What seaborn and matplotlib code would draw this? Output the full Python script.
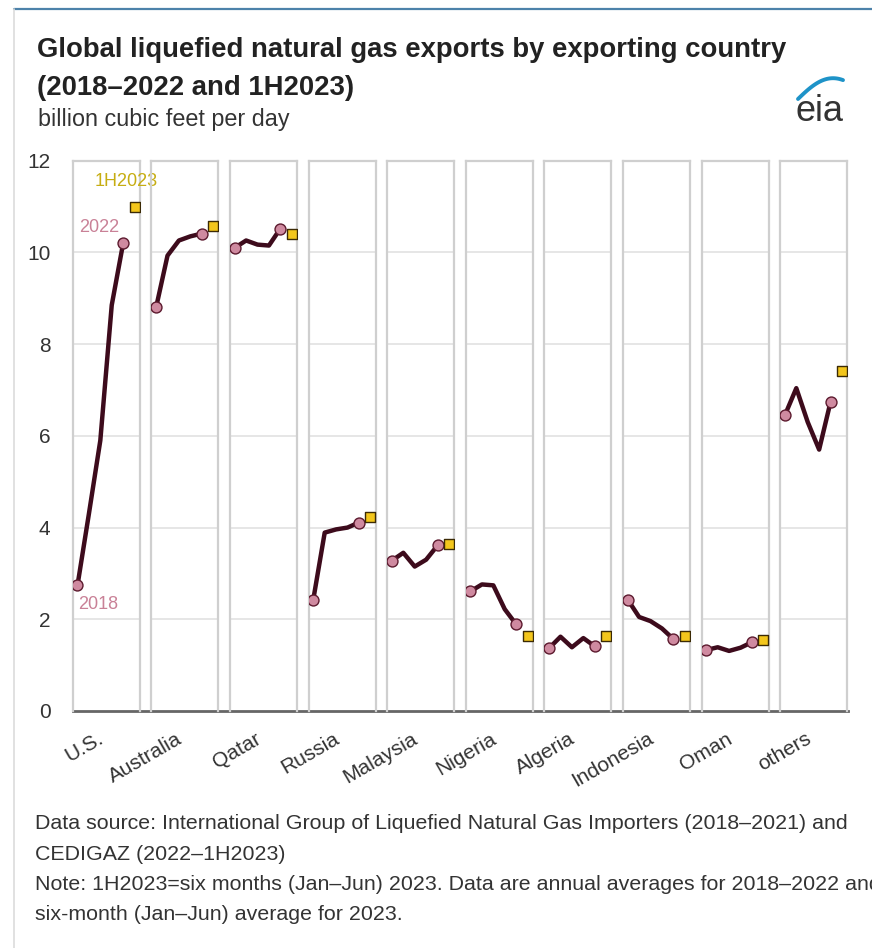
import numpy as np
import pandas as pd
import seaborn as sns
import matplotlib.pyplot as plt
from matplotlib.lines import Line2D

# ---------------- data ----------------
countries = ["U.S.", "Australia", "Qatar", "Russia", "Malaysia",
             "Nigeria", "Algeria", "Indonesia", "Oman", "others"]
years = ["2018", "2019", "2020", "2021", "2022"]
us        = [2.74, 4.30, 5.90, 8.85, 10.20]
australia = [8.80, 9.93, 10.26, 10.35, 10.41]
qatar     = [10.10, 10.26, 10.17, 10.15, 10.52]
russia    = [2.43, 3.89, 3.96, 4.00, 4.11]
malaysia  = [3.28, 3.45, 3.15, 3.30, 3.61]
nigeria   = [2.61, 2.76, 2.74, 2.22, 1.89]
algeria   = [1.37, 1.62, 1.39, 1.59, 1.41]
indonesia = [2.43, 2.05, 1.96, 1.80, 1.57]
oman      = [1.33, 1.39, 1.31, 1.38, 1.50]
others    = [6.45, 7.04, 6.30, 5.70, 6.74]
h1_2023   = [11.00, 10.57, 10.41, 4.22, 3.65, 1.63, 1.63, 1.63, 1.54, 7.41]
yticks = [0, 2, 4, 6, 8, 10, 12]

annual = [us, australia, qatar, russia, malaysia, nigeria, algeria, indonesia, oman, others]

# ---------------- style ----------------
sns.set_theme(style="white")
plt.rcParams['font.family'] = ['Liberation Sans', 'DejaVu Sans']

W, H = 872, 948
fig = plt.figure(figsize=(W / 100, H / 100), dpi=100)
fig.patch.set_facecolor("white")

def fx(px):
    return px / W

def fy(py):
    return 1 - py / H

LINE_C = "#3d0b1c"
CIRC_FC = "#cf8aa0"
CIRC_EC = "#5c1a2e"
SQ_FC = "#f3c61c"
SQ_EC = "#3b2a05"
PANEL_EC = "#cfcfcf"
GRID_C = "#e4e4e4"

plot_left, plot_right = 72.7, 848.3
plot_top, plot_bottom = 160.7, 711.0
panel_w = 67.0
step = 78.6

# background axis: y ticks and bottom baseline
ax_bg = fig.add_axes([fx(plot_left), fy(plot_bottom), fx(plot_right - plot_left),
                      fy(plot_top) - fy(plot_bottom)])
ax_bg.set_ylim(0, 12)
ax_bg.set_xlim(0, 1)
ax_bg.set_yticks(yticks)
ax_bg.set_yticklabels([str(t) for t in yticks], fontsize=15, color="#333333")
ax_bg.tick_params(axis="y", length=0, pad=16)
ax_bg.set_xticks([])
for s in ["top", "right", "left"]:
    ax_bg.spines[s].set_visible(False)
ax_bg.spines["bottom"].set_color("#666666")
ax_bg.spines["bottom"].set_linewidth(2.0)
ax_bg.spines["bottom"].set_zorder(10)
ax_bg.set_facecolor("none")

xlim = (-0.42, 5.45)
for i, (name, vals, last) in enumerate(zip(countries, annual, h1_2023)):
    left = plot_left + i * step
    ax = fig.add_axes([fx(left), fy(plot_bottom), fx(panel_w), fy(plot_top) - fy(plot_bottom)])
    ax.set_facecolor("none")
    ax.set_ylim(0, 12)
    ax.set_xlim(*xlim)
    for yv in yticks[1:-1]:
        ax.axhline(yv, color=GRID_C, lw=1.3, zorder=0)
    for s in ["top", "left", "right"]:
        ax.spines[s].set_color(PANEL_EC)
        ax.spines[s].set_linewidth(1.6)
    ax.spines["bottom"].set_visible(False)
    ax.set_yticks([])
    center = (xlim[0] + xlim[1]) / 2
    ax.set_xticks([center - 0.8])
    ax.set_xticklabels([name], rotation=30, ha="right", rotation_mode="anchor",
                       fontsize=15, color="#333333")
    ax.tick_params(axis="x", length=0, pad=13)

    df = pd.DataFrame({"pos": np.arange(len(years)), "value": vals, "year": years})
    sns.lineplot(data=df, x="pos", y="value", ax=ax, color=LINE_C, lw=3.2,
                 legend=False, zorder=3, solid_capstyle="round", solid_joinstyle="round")
    ends = df.iloc[[0, -1]]
    sns.scatterplot(data=ends, x="pos", y="value", ax=ax, marker="o", s=62,
                    color=CIRC_FC, edgecolor=CIRC_EC, linewidth=1.0, zorder=4, legend=False)
    dsq = pd.DataFrame({"pos": [len(years)], "value": [last]})
    sns.scatterplot(data=dsq, x="pos", y="value", ax=ax, marker="s", s=58,
                    color=SQ_FC, edgecolor=SQ_EC, linewidth=1.0, zorder=4, legend=False)
    ax.set_xlabel("")
    ax.set_ylabel("")

    if i == 0:
        ax.annotate("2022", xy=(len(years) - 1, vals[-1]), xytext=(-17, 11),
                    textcoords="offset points", ha="center", va="center",
                    fontsize=13, color="#c98197")
        ax.annotate("2018", xy=(0, vals[0]), xytext=(15, -14),
                    textcoords="offset points", ha="center", va="center",
                    fontsize=13, color="#c98197")
        ax.annotate("1H2023", xy=(len(years), last), xytext=(-6, 18),
                    textcoords="offset points", ha="center", va="center",
                    fontsize=13, color="#c6ad12")

# ---------------- titles and notes ----------------
fig.text(fx(37), fy(57), "Global liquefied natural gas exports by exporting country",
         fontsize=19.8, fontweight="bold", color="#222222", va="baseline", ha="left")
fig.text(fx(37), fy(95), "(2018\u20132022 and 1H2023)",
         fontsize=19.8, fontweight="bold", color="#222222", va="baseline", ha="left")
fig.text(fx(38), fy(126), "billion cubic feet per day",
         fontsize=16.8, color="#333333", va="baseline", ha="left")

notes = [
    "Data source: International Group of Liquefied Natural Gas Importers (2018\u20132021) and",
    "CEDIGAZ (2022\u20131H2023)",
    "Note: 1H2023=six months (Jan\u2013Jun) 2023. Data are annual averages for 2018\u20132022 and",
    "six-month (Jan\u2013Jun) average for 2023.",
]
for k, t in enumerate(notes):
    fig.text(fx(35), fy(829 + k * 30.5), t, fontsize=15.4, color="#333333",
             va="baseline", ha="left")

# eia logo
fig.text(fx(819), fy(121), "eia", fontsize=26, color="#333333", ha="center",
         va="baseline", fontweight="normal")
tt = np.linspace(0, 1, 40)
arc_x = 798 + 45 * tt
arc_y = 99 - 21 * np.sin(tt * np.pi * 0.62) / np.sin(np.pi * 0.62) * (1 - 0.1 * tt)
fig.add_artist(Line2D(fx(arc_x), fy(arc_y), color="#1e93c8", lw=2.8,
                      transform=fig.transFigure))

# frame lines
fig.add_artist(Line2D([fx(14), 1], [fy(8.5), fy(8.5)], color="#4d82aa", lw=1.6,
                      transform=fig.transFigure))
fig.add_artist(Line2D([fx(14), fx(14)], [fy(8.5), 0], color="#dcdcdc", lw=1.2,
                      transform=fig.transFigure))

fig.savefig("out.png", dpi=100, facecolor="white")
